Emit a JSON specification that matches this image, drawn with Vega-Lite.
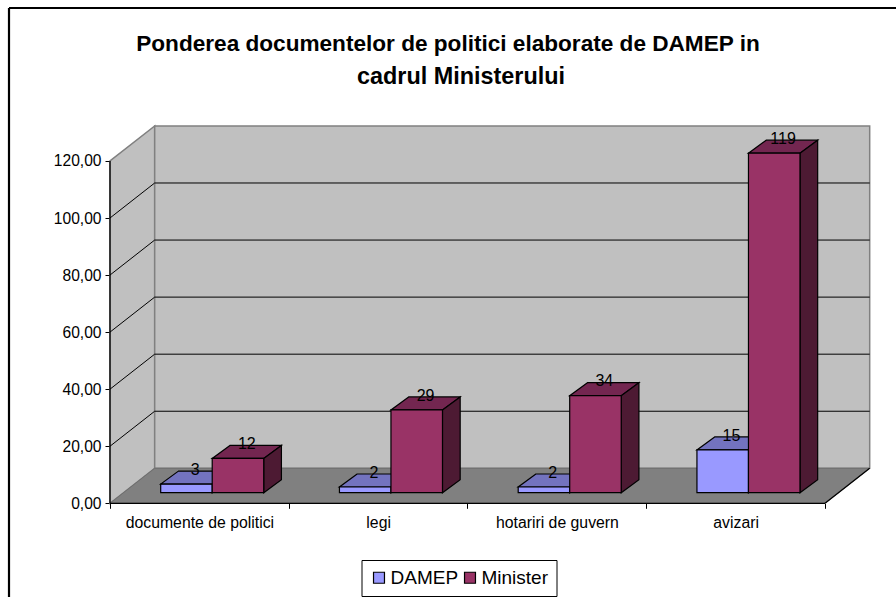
{
"$schema":"https://vega.github.io/schema/vega-lite/v6.json",
"width":896,"height":597,"padding":0,"autosize":"none","background":"white",
"config":{"font":"Liberation Sans","view":{"stroke":null}},
"title":{"text":"Ponderea documentelor de politici elaborate de DAMEP in","font":"Liberation Sans","fontSize":22.6,"fontWeight":"bold","color":"black","anchor":"middle","frame":"group","offset":-56},
"data":{"values":[
{"category":"documente de politici","series":"DAMEP","value":3},
{"category":"documente de politici","series":"Minister","value":12},
{"category":"legi","series":"DAMEP","value":2},
{"category":"legi","series":"Minister","value":29},
{"category":"hotariri de guvern","series":"DAMEP","value":2},
{"category":"hotariri de guvern","series":"Minister","value":34},
{"category":"avizari","series":"DAMEP","value":15},
{"category":"avizari","series":"Minister","value":119}
]},
"transform":[
{"calculate":"indexof(['documente de politici','legi','hotariri de guvern','avizari'],datum.category)","as":"idx"},
{"calculate":"datum.idx+0.2836+(datum.series=='DAMEP'?0:0.2882)","as":"x0"},
{"calculate":"datum.x0+0.2882","as":"x1"},
{"calculate":"datum.value+3.72","as":"top"},
{"calculate":"[0,1]","as":"ts"}
],
"layer":[
{"data":{"values":[{"t":0},{"t":1}]},"transform":[{"calculate":"datum.t*0.25","as":"wx"},{"calculate":"datum.t*12.27","as":"wy"},{"calculate":"120+datum.t*12.27","as":"wy2"}],
 "mark":{"type":"area","fill":"#C0C0C0","stroke":"#808080","strokeWidth":1.5},
 "encoding":{
  "x":{"field":"wx","type":"quantitative","title":null,"scale":{"domain":[-0.61538,4.3972],"nice":false,"zero":false},
   "axis":{"values":[0,1,2,3,4],"orient":"bottom","title":null,"grid":false,"domain":false,"offset":-93.7,"tickSize":5,"tickColor":"black","labelColor":"black","labelFontSize":15.8,"labelPadding":7.5,"labelOffset":89.4,"labelFlush":false,"labelBound":false,"labelOverlap":false,"labelAngle":0,"labelLimit":300,"labelExpr":"['documente de politici','legi','hotariri de guvern','avizari',''][datum.value]"}},
  "y":{"field":"wy","type":"quantitative","title":null,"scale":{"domain":[-32.84,176.41],"nice":false,"zero":false},
   "axis":{"values":[0,20,40,60,80,100,120],"orient":"left","title":null,"grid":false,"domain":false,"offset":-110,"tickSize":5,"tickColor":"black","labelColor":"black","labelFontSize":15.6,"labelPadding":4,"labelExpr":"replace(format(datum.value,'.2f'),'.',',')"}},
  "y2":{"field":"wy2"}
 }},
{"data":{"values":[{}]},"mark":{"type":"rect","fill":"#C0C0C0","stroke":"#808080","strokeWidth":1.5},
 "encoding":{
  "x":{"datum":0.25,"type":"quantitative","title":null},
  "x2":{"datum":4.25},
  "y":{"datum":12.27,"type":"quantitative","title":null},
  "y2":{"datum":132.27}
 }},
{"data":{"values":[{"v":20},{"v":40},{"v":60},{"v":80},{"v":100}]},"transform":[{"calculate":"datum.v+12.27","as":"vb"}],
 "layer":[
 {"mark":{"type":"rule","color":"black","strokeWidth":1},
  "encoding":{
  "x":{"datum":0.25,"type":"quantitative","title":null},
  "x2":{"datum":4.25},
  "y":{"field":"vb","type":"quantitative","title":null}
 }},
 {"mark":{"type":"rule","color":"black","strokeWidth":1},
  "encoding":{
  "x":{"datum":0,"type":"quantitative","title":null},
  "x2":{"datum":0.25},
  "y":{"field":"v","type":"quantitative","title":null},
  "y2":{"field":"vb"}
 }}]},
{"data":{"values":[{"t":0},{"t":1}]},"transform":[{"calculate":"datum.t*0.25","as":"fx"},{"calculate":"4+datum.t*0.25","as":"fx2"},{"calculate":"datum.t*12.27","as":"fy"}],
 "mark":{"type":"area","orient":"horizontal","fill":"#808080","stroke":"#6e6e6e","strokeWidth":1},
 "encoding":{
  "x":{"field":"fx","type":"quantitative","title":null},
  "x2":{"field":"fx2"},
  "y":{"field":"fy","type":"quantitative","title":null}
 }},
{"data":{"values":[{}]},"mark":{"type":"rule","color":"black","strokeWidth":1.3},
 "encoding":{
  "x":{"datum":4,"type":"quantitative","title":null},
  "x2":{"datum":4.25},
  "y":{"datum":0,"type":"quantitative","title":null},
  "y2":{"datum":12.27}
 }},
{"data":{"values":[{}]},"mark":{"type":"rule","color":"black","strokeWidth":1.3},
 "encoding":{
  "x":{"datum":0,"type":"quantitative","title":null},
  "x2":{"datum":4},
  "y":{"datum":0,"type":"quantitative","title":null}
 }},
{"data":{"values":[{}]},"mark":{"type":"rule","color":"black","strokeWidth":1.3},
 "encoding":{
  "x":{"datum":0,"type":"quantitative","title":null},
  "y":{"datum":0,"type":"quantitative","title":null},
  "y2":{"datum":120}
 }},
{"data":{"values":[{}]},"mark":{"type":"rule","color":"black","strokeWidth":2.2},
 "encoding":{
  "x":{"datum":-0.565,"type":"quantitative","title":null},
  "x2":{"datum":4.3972},
  "y":{"datum":173.6,"type":"quantitative","title":null}
 }},
{"data":{"values":[{}]},"mark":{"type":"rule","color":"black","strokeWidth":2.2},
 "encoding":{
  "x":{"datum":-0.565,"type":"quantitative","title":null},
  "y":{"datum":-32.84,"type":"quantitative","title":null},
  "y2":{"datum":173.6}
 }},
{"data":{"values":[{}]},"mark":{"type":"text","text":"cadrul Ministerului","fontSize":23.4,"fontWeight":"bold","color":"black","align":"center","baseline":"alphabetic"},
 "encoding":{
  "x":{"datum":1.9636,"type":"quantitative","title":null},
  "y":{"datum":146.97,"type":"quantitative","title":null}
 }},
{"transform":[{"flatten":["ts"],"as":["t"]},{"calculate":"datum.x0+datum.t*0.099","as":"xa"},{"calculate":"datum.x1+datum.t*0.099","as":"xb"},{"calculate":"datum.top+datum.t*4.556","as":"yt"},{"calculate":"datum.category+datum.series","as":"id"}],
 "mark":{"type":"area","orient":"horizontal","stroke":"black","strokeWidth":1.2},
 "encoding":{
  "x":{"field":"xa","type":"quantitative","title":null},
  "x2":{"field":"xb"},
  "y":{"field":"yt","type":"quantitative","title":null},
  "detail":{"field":"id"},
  "fill":{"condition":{"test":"datum.series=='DAMEP'","value":"#7373BF"},"value":"#732650"}
 }},
{"transform":[{"flatten":["ts"],"as":["t"]},{"calculate":"datum.x1+datum.t*0.099","as":"xs"},{"calculate":"datum.top+datum.t*4.556","as":"yt"},{"calculate":"3.72+datum.t*4.556","as":"yb"},{"calculate":"datum.category+datum.series","as":"id"}],
 "mark":{"type":"area","stroke":"black","strokeWidth":1.2},
 "encoding":{
  "x":{"field":"xs","type":"quantitative","title":null},
  "y":{"field":"yt","type":"quantitative","title":null},
  "y2":{"field":"yb"},
  "detail":{"field":"id"},
  "fill":{"condition":{"test":"datum.series=='DAMEP'","value":"#4D4D80"},"value":"#4D1A33"}
 }},
{"mark":{"type":"bar","stroke":"black","strokeWidth":1.2,"yOffset":-10.6,"y2Offset":-10.6},
 "encoding":{
  "x":{"field":"x0","type":"quantitative","title":null},
  "x2":{"field":"x1"},
  "y":{"field":"value","type":"quantitative","stack":null,"title":null},
  "y2":{"datum":0},
  "color":{"field":"series","type":"nominal","scale":{"domain":["DAMEP","Minister"],"range":["#9999FF","#993366"]},
   "legend":{"orient":"none","legendX":361.5,"legendY":560,"direction":"horizontal","title":null,"fillColor":"white","strokeColor":"black","padding":8,"symbolType":"square","symbolSize":120,"symbolStrokeColor":"black","symbolStrokeWidth":1.2,"labelFontSize":19,"labelColor":"black","labelOffset":2,"columnPadding":2,"symbolOpacity":1}}
 }},
{"transform":[{"calculate":"(datum.x0+datum.x1)/2","as":"xc"}],
 "mark":{"type":"text","fontSize":16,"color":"black","baseline":"middle","align":"center","xOffset":8.8,"yOffset":-25},
 "encoding":{
  "x":{"field":"xc","type":"quantitative","title":null},
  "y":{"field":"value","type":"quantitative","stack":null,"title":null},
  "text":{"field":"value","type":"quantitative"}
 }}
]
}
